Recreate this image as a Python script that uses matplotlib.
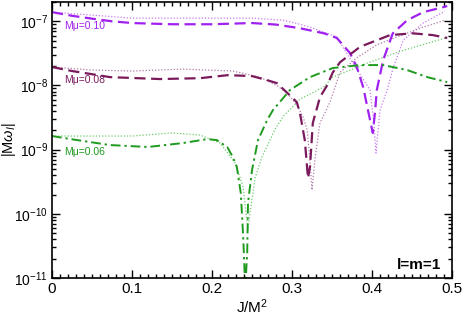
import numpy as np
import matplotlib
matplotlib.use("Agg")
import matplotlib.pyplot as plt

plt.rcParams['font.family'] = ['Liberation Sans', 'DejaVu Sans']
plt.rcParams['mathtext.fontset'] = 'custom'
plt.rcParams['mathtext.rm'] = 'Liberation Sans'
plt.rcParams['mathtext.it'] = 'Liberation Sans:italic'

# M mu = 0.10
x10 = [0, 0.025, 0.05, 0.075, 0.1, 0.15, 0.2, 0.25, 0.28, 0.31, 0.34, 0.356, 0.3725, 0.381,
       0.389, 0.395, 0.401, 0.404, 0.406, 0.414, 0.426, 0.444, 0.464, 0.489, 0.494]
y10 = [1.39e-7, 1.22e-7, 1.1e-7, 1.0e-7, 9.4e-8, 9.0e-8, 9.0e-8, 9.4e-8, 8.9e-8, 7.8e-8,
       6.5e-8, 5.5e-8, 3.2e-8, 1.94e-8, 9.4e-9, 4.1e-9, 1.82e-9, 4.1e-9, 8.5e-9, 2.5e-8,
       6.5e-8, 1.04e-7, 1.39e-7, 1.66e-7, 1.73e-7]
x10d = [0, 0.05, 0.1, 0.15, 0.2, 0.25, 0.289, 0.31, 0.3225, 0.356, 0.376, 0.3975,
        0.402, 0.405, 0.41, 0.419, 0.426, 0.439, 0.464, 0.489, 0.491]
y10d = [1.39e-7, 1.25e-7, 1.12e-7, 1.12e-7, 1.12e-7, 1.12e-7, 1.04e-7, 9.0e-8, 8.1e-8,
        5.7e-8, 2.23e-8, 8.5e-9, 2.9e-9, 8.85e-10, 4.1e-9, 8.5e-9, 1.8e-8, 5.1e-8,
        9.4e-8, 1.39e-7, 1.45e-7]

# M mu = 0.08
x08 = [0, 0.025, 0.05, 0.0725, 0.135, 0.185, 0.22, 0.25, 0.269, 0.281, 0.2975, 0.306, 0.31,
       0.316, 0.32, 0.3225, 0.326, 0.335, 0.344, 0.351, 0.36, 0.385, 0.4225, 0.451,
       0.476, 0.494]
y08 = [1.94e-8, 1.68e-8, 1.5e-8, 1.35e-8, 1.26e-8, 1.30e-8, 1.45e-8, 1.40e-8, 1.21e-8,
       1.09e-8, 7.0e-9, 5.5e-9, 3.7e-9, 1.41e-9, 3.6e-10, 5.4e-10, 2.6e-9, 6.6e-9,
       1.01e-8, 1.6e-8, 2.3e-8, 4.0e-8, 6.1e-8, 6.5e-8, 6.1e-8, 5.5e-8]
x08d = [0, 0.05, 0.1, 0.164, 0.226, 0.26, 0.281, 0.294, 0.306, 0.314, 0.319, 0.322,
        0.325, 0.329, 0.335, 0.3475, 0.36, 0.381, 0.406, 0.431, 0.464, 0.491]
y08d = [1.94e-8, 1.74e-8, 1.68e-8, 1.8e-8, 1.68e-8, 1.35e-8, 1.0e-8, 7.6e-9, 5.0e-9,
        3.2e-9, 2.0e-9, 8e-10, 2.35e-10, 7.7e-10, 2.6e-9, 5.5e-9, 1.6e-8, 2.7e-8,
        4.3e-8, 5.7e-8, 8.1e-8, 1.04e-7]

# M mu = 0.06
x06 = [0, 0.025, 0.05, 0.0725, 0.12, 0.164, 0.194, 0.206, 0.219, 0.226, 0.231, 0.236, 0.239,
       0.2415, 0.244, 0.245, 0.25, 0.2575, 0.269, 0.276, 0.2975, 0.3225, 0.351, 0.385,
       0.414, 0.444, 0.469, 0.494]
y06 = [1.63e-9, 1.45e-9, 1.3e-9, 1.18e-9, 1.10e-9, 1.27e-9, 1.46e-9, 1.41e-9, 1.10e-9,
       7.7e-10, 5.4e-10, 2.1e-10, 4.4e-11, 7e-12, 2.45e-11, 1.47e-10, 4.8e-10, 1.41e-9,
       2.9e-9, 4.1e-9, 8.5e-9, 1.35e-8, 1.87e-8, 2.08e-8, 2.08e-8, 1.74e-8, 1.35e-8, 1.13e-8]
x06d = [0, 0.05, 0.1, 0.15, 0.185, 0.21, 0.229, 0.239, 0.245, 0.2475, 0.254, 0.2625,
        0.279, 0.289, 0.31, 0.339, 0.351, 0.394, 0.435, 0.494]
y06d = [1.63e-9, 1.63e-9, 1.63e-9, 1.82e-9, 1.69e-9, 1.27e-9, 6.2e-10, 2.6e-10, 5.6e-11,
        1.03e-10, 3.7e-10, 7.7e-10, 2.1e-9, 3.3e-9, 6.1e-9, 9.4e-9, 1.35e-8, 2.23e-8,
        3.4e-8, 5.6e-8]

labels = ['M\u03bc=0.10', 'M\u03bc=0.08', 'M\u03bc=0.06']

c10, c08, c06 = '#a020f0', '#7a1a5c', '#1e9a1e'
c10d, c08d, c06d = '#c77cf0', '#b07aa8', '#6ccc6c'

fig = plt.figure(figsize=(4.63, 3.18), dpi=100)
ax = fig.add_axes([52/463, 40/318, 400/463, 276/318])

ax.plot(x10d, y10d, color=c10d, lw=0.9, ls=(0, (1, 1.5)))
ax.plot(x08d, y08d, color=c08d, lw=0.9, ls=(0, (1, 1.5)))
ax.plot(x06d, y06d, color=c06d, lw=0.9, ls=(0, (1, 1.5)))
ax.plot(x10, y10, color=c10, lw=1.6, ls=(0, (5, 2.5)))
ax.plot(x08, y08, color=c08, lw=1.6, ls=(0, (5, 2.5)))
ax.plot(x06, y06, color=c06, lw=1.4, ls=(0, (5, 2, 1.2, 2)))

ax.set_yscale('log')
ax.set_xlim(0, 0.5)
ax.set_ylim(1e-11, 2e-7)
ax.set_xticks([0, 0.1, 0.2, 0.3, 0.4, 0.5])
ax.set_xticklabels(['0', '0.1', '0.2', '0.3', '0.4', '0.5'])
ax.set_xticks(np.arange(0, 0.5001, 0.01), minor=True)
ax.set_yticks([1e-11, 1e-10, 1e-9, 1e-8, 1e-7])
ax.tick_params(which='both', direction='in', top=True, right=True, width=1)
ax.tick_params(axis='x', labelsize=11)
ax.tick_params(axis='y', labelsize=10)
ax.tick_params(which='major', length=6, pad=3)
ax.tick_params(which='minor', length=3)
for s in ax.spines.values():
    s.set_linewidth(1.2)

ax.set_xlabel('J/M$^2$', fontsize=11, labelpad=1)
ax.set_ylabel(r'|M$\omega_I$|', fontsize=10.5)
ax.yaxis.set_label_coords(-0.085, 0.5)

ax.text(0.015, 8.4e-8, labels[0], color=c10, fontsize=7.5, va='center')
ax.text(0.015, 1.21e-8, labels[1], color=c08, fontsize=7.5, va='center')
ax.text(0.015, 9.2e-10, labels[2], color=c06, fontsize=7.5, va='center')
ax.text(0.486, 1.6e-11, 'l=m=1', fontsize=11, fontweight='bold', ha='right', va='center')

fig.savefig('out.png', dpi=100)
